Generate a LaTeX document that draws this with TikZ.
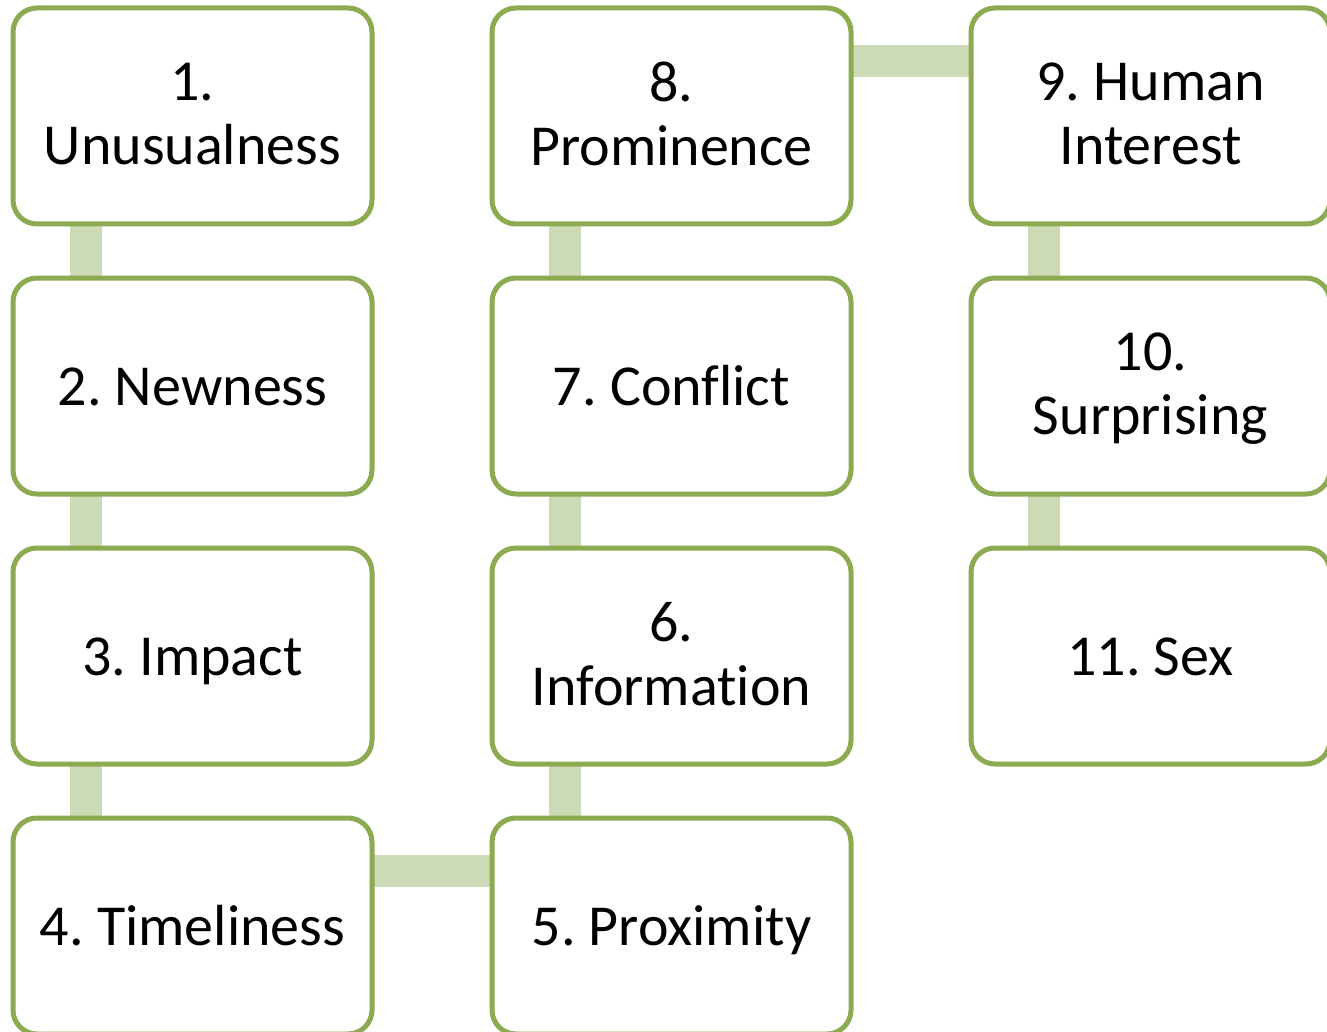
\documentclass[tikz,border=0pt]{standalone}
\usepackage{fontspec}
\setmainfont{Carlito}[Ligatures=NoCommon]
\frenchspacing
\usetikzlibrary{positioning, backgrounds}
\definecolor{boxgreen}{RGB}{140,171,80}
\definecolor{linkgreen}{RGB}{204,218,181}
\tikzset{
    factbox/.style={rectangle, draw=boxgreen, fill=white, rounded corners=24pt, line width=5pt, outer sep=0pt, minimum width=359pt, minimum height=216pt, align=center, font=\fontsize{58}{64}\selectfont, text depth=4pt, execute at begin node={\rule{0pt}{42pt}}},
    linkbar/.style={draw=linkgreen, line width=32pt}
}

\begin{document}
\begin{tikzpicture}[node distance=54pt and 120pt]

\useasboundingbox (0pt,0pt) rectangle (1327pt,-1032pt);
\clip (0pt,0pt) rectangle (1327pt,-1032pt);

\node[factbox] (f1) at (192.5pt,-116pt) {1.\\Unusualness};
\node[factbox, below=of f1] (f2) {2. Newness};
\node[factbox, below=of f2] (f3) {3. Impact};
\node[factbox, below=of f3] (f4) {4. Timeliness};
\node[factbox, right=of f4] (f5) {5. Proximity};
\node[factbox, above=of f5] (f6) {6.\\Information};
\node[factbox, above=of f6] (f7) {7. Conflict};
\node[factbox, above=of f7] (f8) {8.\\Prominence};
\node[factbox, right=of f8] (f9) {9. Human\\Interest};
\node[factbox, below=of f9] (f10) {10.\\Surprising};
\node[factbox, below=of f10] (f11) {11. Sex};

\begin{scope}[on background layer]
\fill[white] (0pt,0pt) rectangle (1327pt,-1032pt);
\draw[linkbar] ([xshift=73pt]f1.south west) -- ([xshift=73pt]f2.north west);
\draw[linkbar] ([xshift=73pt]f2.south west) -- ([xshift=73pt]f3.north west);
\draw[linkbar] ([xshift=73pt]f3.south west) -- ([xshift=73pt]f4.north west);
\draw[linkbar] ([yshift=-53pt]f4.north east) -- ([yshift=-53pt]f5.north west);
\draw[linkbar] ([xshift=73pt]f5.north west) -- ([xshift=73pt]f6.south west);
\draw[linkbar] ([xshift=73pt]f6.north west) -- ([xshift=73pt]f7.south west);
\draw[linkbar] ([xshift=73pt]f7.north west) -- ([xshift=73pt]f8.south west);
\draw[linkbar] ([yshift=-53pt]f8.north east) -- ([yshift=-53pt]f9.north west);
\draw[linkbar] ([xshift=73pt]f9.south west) -- ([xshift=73pt]f10.north west);
\draw[linkbar] ([xshift=73pt]f10.south west) -- ([xshift=73pt]f11.north west);
\end{scope}

\end{tikzpicture}
\end{document}
